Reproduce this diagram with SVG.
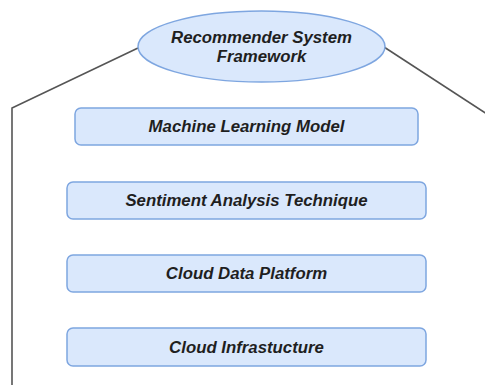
<svg xmlns="http://www.w3.org/2000/svg" width="485" height="385" viewBox="0 0 485 385">
  <style>
    .node { fill: #dae8fc; stroke: #7ea6e0; stroke-width: 1.5; }
    .label { font-family: "Liberation Sans", Arial, sans-serif; font-size: 16.8px; font-weight: bold; font-style: italic; fill: #1f1f1f; text-anchor: middle; }
    .edge { fill: none; stroke: #555555; stroke-width: 1.6; }
  </style>
  <rect width="485" height="385" fill="#ffffff"/>

  <!-- connectors -->
  <g id="connectors">
    <polyline class="edge" points="138,48 12,108 12,385"/>
    <line class="edge" x1="384" y1="47" x2="487" y2="114"/>
  </g>

  <!-- top-level framework -->
  <g id="framework">
    <ellipse class="node" cx="261.5" cy="46.5" rx="123.5" ry="35.5"/>
    <text class="label" x="261.5" y="43">Recommender System</text>
    <text class="label" x="261.5" y="62">Framework</text>
  </g>

  <!-- layers -->
  <g id="ml-model">
    <rect class="node" x="75" y="108" width="343" height="37" rx="6"/>
    <text class="label" x="246.5" y="132">Machine Learning Model</text>
  </g>
  <g id="sentiment">
    <rect class="node" x="67" y="182" width="359" height="37" rx="6"/>
    <text class="label" x="246.5" y="206">Sentiment Analysis Technique</text>
  </g>
  <g id="data-platform">
    <rect class="node" x="67" y="255" width="359" height="37" rx="6"/>
    <text class="label" x="246.5" y="279">Cloud Data Platform</text>
  </g>
  <g id="infrastructure">
    <rect class="node" x="67" y="328" width="359" height="38" rx="6"/>
    <text class="label" x="246.5" y="353">Cloud Infrastucture</text>
  </g>
</svg>
